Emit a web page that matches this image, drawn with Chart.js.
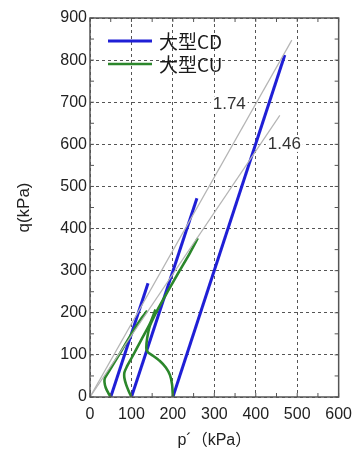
<!DOCTYPE html>
<html>
<head>
<meta charset="utf-8">
<script src="https://cdn.jsdelivr.net/npm/chart.js@4/dist/chart.umd.min.js"></script>
<style>
  html, body { margin: 0; padding: 0; background: #fff; }
  #wrap { width: 360px; height: 454px; }
</style>
</head>
<body>
<div id="wrap"><canvas id="c" width="360" height="454"></canvas></div>
<script>
// Axis ticks
const pTicks = [0, 100, 200, 300, 400, 500, 600];
const qTicks = [0, 100, 200, 300, 400, 500, 600, 700, 800, 900];

// Series labels
const seriesNames = ['大型CD', '大型CU'];

// Drained (CD) stress paths, p' and q in kPa
const cd50P = [50, 140];
const cd50Q = [0, 270];
const cd100P = [100, 258];
const cd100Q = [0, 472];
const cd200P = [200, 470];
const cd200Q = [0, 812];

// Undrained (CU) effective stress paths
const cu50P = [50, 44, 38, 35, 36, 45, 70, 100, 125, 138];
const cu50Q = [0, 10, 22, 35, 45, 60, 100, 150, 188, 205];
const cu100P = [100, 93, 87, 83, 83, 88, 100, 125, 145, 158];
const cu100Q = [0, 15, 30, 45, 58, 70, 92, 138, 175, 208];
const cu200P = [200, 198, 193, 183, 168, 152, 140, 136, 138, 145, 165, 190, 215, 240, 260];
const cu200Q = [0, 30, 52, 70, 86, 98, 106, 115, 140, 170, 211, 255, 298, 340, 377];

// Failure lines q = M p'
const slopeM = [1.74, 1.46];
const slopeEndP = [487, 458];
const slopeLabelP = [336, 469];
const slopeLabelQ = [695, 601];

const BLUE = '#1f1fd6';
const GREEN = '#2b872b';
const GRAY_LINE = '#b4b4b4';
const AXIS = '#555555';

function pts(ps, qs) { return ps.map((p, i) => ({ x: p, y: qs[i] })); }

const datasets = [];
slopeM.forEach((m, i) => {
  datasets.push({
    label: 'M=' + m,
    data: [{ x: 0, y: 0 }, { x: slopeEndP[i], y: m * slopeEndP[i] }],
    borderColor: GRAY_LINE, borderWidth: 1.2, pointRadius: 0, showLine: true, tension: 0
  });
});
[[cu50P, cu50Q], [cu100P, cu100Q], [cu200P, cu200Q]].forEach(([p, q]) => {
  datasets.push({
    label: seriesNames[1], data: pts(p, q), borderColor: GREEN, borderWidth: 2.6,
    pointRadius: 0, showLine: true, tension: 0.25
  });
});
[[cd50P, cd50Q], [cd100P, cd100Q], [cd200P, cd200Q]].forEach(([p, q]) => {
  datasets.push({
    label: seriesNames[0], data: pts(p, q), borderColor: BLUE, borderWidth: 3,
    pointRadius: 0, showLine: true, tension: 0
  });
});

// Frame, inward minor ticks, slope labels and the legend
const decor = {
  id: 'decor',
  beforeDatasetsDraw(chart) {
    const { ctx } = chart;
    const xs = chart.scales.x, ys = chart.scales.y;
    ctx.save();
    ctx.font = '17px "Liberation Sans", Arial, sans-serif';
    ctx.fillStyle = '#ffffff';
    slopeM.forEach((m, i) => {
      const t = m.toFixed(2);
      const w = ctx.measureText(t).width;
      const cx = xs.getPixelForValue(slopeLabelP[i]);
      const cy = ys.getPixelForValue(slopeLabelQ[i]);
      ctx.fillRect(cx - w / 2 - 2, cy - 8, w + 4, 16);
    });
    ctx.restore();
  },
  afterDatasetsDraw(chart) {
    const { ctx, chartArea: a } = chart;
    const xs = chart.scales.x, ys = chart.scales.y;
    ctx.save();
    // box
    ctx.strokeStyle = AXIS;
    ctx.lineWidth = 1.5;
    ctx.strokeRect(a.left, a.top, a.right - a.left, a.bottom - a.top);
    // inward ticks every 50 kPa
    ctx.lineWidth = 1;
    const tl = 4;
    for (let v = 0; v <= 600; v += 50) {
      const x = xs.getPixelForValue(v);
      ctx.beginPath();
      ctx.moveTo(x, a.bottom); ctx.lineTo(x, a.bottom - tl);
      ctx.moveTo(x, a.top); ctx.lineTo(x, a.top + tl);
      ctx.stroke();
    }
    for (let v = 0; v <= 900; v += 50) {
      const y = ys.getPixelForValue(v);
      ctx.beginPath();
      ctx.moveTo(a.left, y); ctx.lineTo(a.left + tl, y);
      ctx.moveTo(a.right, y); ctx.lineTo(a.right - tl, y);
      ctx.stroke();
    }
    // slope labels
    ctx.font = '17px "Liberation Sans", Arial, sans-serif';
    ctx.fillStyle = '#333333';
    ctx.textAlign = 'center';
    ctx.textBaseline = 'middle';
    slopeM.forEach((m, i) => {
      ctx.fillText(m.toFixed(2), xs.getPixelForValue(slopeLabelP[i]), ys.getPixelForValue(slopeLabelQ[i]));
    });
    // legend
    const colors = [BLUE, GREEN];
    const widths = [3, 2.6];
    ctx.font = '19px "Noto Sans CJK JP", "Liberation Sans", sans-serif';
    ctx.textAlign = 'left';
    seriesNames.forEach((name, i) => {
      const y = a.top + 23 + i * 23;
      ctx.strokeStyle = colors[i];
      ctx.lineWidth = widths[i];
      ctx.beginPath();
      ctx.moveTo(a.left + 18, y); ctx.lineTo(a.left + 62, y);
      ctx.stroke();
      ctx.fillStyle = '#1a1a1a';
      ctx.fillText(name, a.left + 69, y + 1);
    });
    ctx.restore();
  }
};

const tickFont = { family: '"Liberation Sans", Arial, sans-serif', size: 16 };

new Chart(document.getElementById('c'), {
  type: 'scatter',
  data: { datasets },
  options: {
    responsive: false,
    animation: false,
    layout: { padding: { top: 18, right: 15, left: 0, bottom: 0 } },
    plugins: { legend: { display: false }, tooltip: { enabled: false } },
    scales: {
      x: {
        type: 'linear', min: pTicks[0], max: pTicks[pTicks.length - 1],
        afterBuildTicks(s) { s.ticks = pTicks.map(v => ({ value: v })); },
        afterFit(s) { s.height = 57; },
        ticks: { font: tickFont, color: '#222', padding: 8, maxRotation: 0 },
        grid: { color: AXIS, lineWidth: 1, drawTicks: false },
        border: { display: false, dash: [3, 3] },
        title: { display: true, text: 'p´（kPa）', color: '#222',
                 font: { family: '"Liberation Sans", "Noto Sans CJK JP", sans-serif', size: 16 },
                 padding: { top: 0, bottom: 4 } }
      },
      y: {
        type: 'linear', min: qTicks[0], max: qTicks[qTicks.length - 1],
        afterBuildTicks(s) { s.ticks = qTicks.map(v => ({ value: v })); },
        afterFit(s) { s.width = 90; },
        ticks: { font: tickFont, color: '#222', padding: 3 },
        grid: { color: AXIS, lineWidth: 1, drawTicks: false },
        border: { display: false, dash: [3, 3] },
        title: { display: true, text: 'q(kPa)', color: '#222',
                 font: { family: '"Liberation Sans", sans-serif', size: 17 },
                 padding: { top: 14, bottom: 0 } }
      }
    }
  },
  plugins: [decor]
});
</script>
</body>
</html>
